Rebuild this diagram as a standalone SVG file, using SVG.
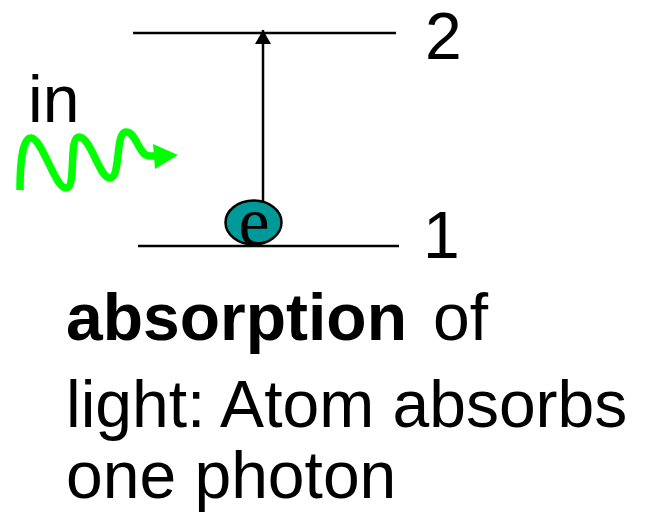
<svg xmlns="http://www.w3.org/2000/svg" width="653" height="517" viewBox="0 0 653 517">
<defs>
<style>
.t{font-family:"Liberation Sans",Arial,sans-serif;font-size:66px;fill:#000}
.lvl{stroke:#000;stroke-width:2.5;fill:none}
</style>
<marker id="ah" markerWidth="16" markerHeight="16" refX="14" refY="8" orient="auto" markerUnits="userSpaceOnUse">
<path d="M0,0 L14,8 L0,16 Z" fill="#000"/>
</marker>
</defs>
<rect width="653" height="517" fill="#fff"/>
<g id="level2">
<line class="lvl" x1="133" y1="33" x2="396" y2="33"/>
<text class="t" x="425" y="59">2</text>
</g>
<g id="level1">
<line class="lvl" x1="138" y1="246" x2="399" y2="246"/>
<text class="t" x="423" y="258">1</text>
</g>
<g id="connectors">
<line x1="263" y1="205" x2="263" y2="30" stroke="#000" stroke-width="2.5" marker-end="url(#ah)"/>
</g>
<g id="electron">
<ellipse cx="253.5" cy="222.5" rx="28" ry="22" fill="#009999" stroke="#000" stroke-width="2.5"/>
<text x="254" y="245" text-anchor="middle" font-family="'Liberation Serif','Times New Roman',serif" font-size="70" fill="#000">e</text>
</g>
<g id="photon">
<text class="t" x="28" y="122">in</text>
<path d="M20,190 C20,160 23,138 31,138 C42,138 55,188 66,188 C77,188 68,137 79,137 C91,137 99,178 110,178 C121,178 115,132 126,132 C137,132 138,156 150,156 L157,156" fill="none" stroke="#00ff00" stroke-width="7.5" stroke-linecap="butt" stroke-linejoin="round"/>
<path d="M153,144 L178,155 L155,169 Z" fill="#00ff00"/>
</g>
<g id="caption">
<text class="t" x="66" y="340" font-weight="bold">absorption</text>
<text class="t" x="433" y="340">of</text>
<text class="t" x="66" y="427">light: Atom absorbs</text>
<text class="t" x="66" y="498">one photon</text>
</g>
</svg>
